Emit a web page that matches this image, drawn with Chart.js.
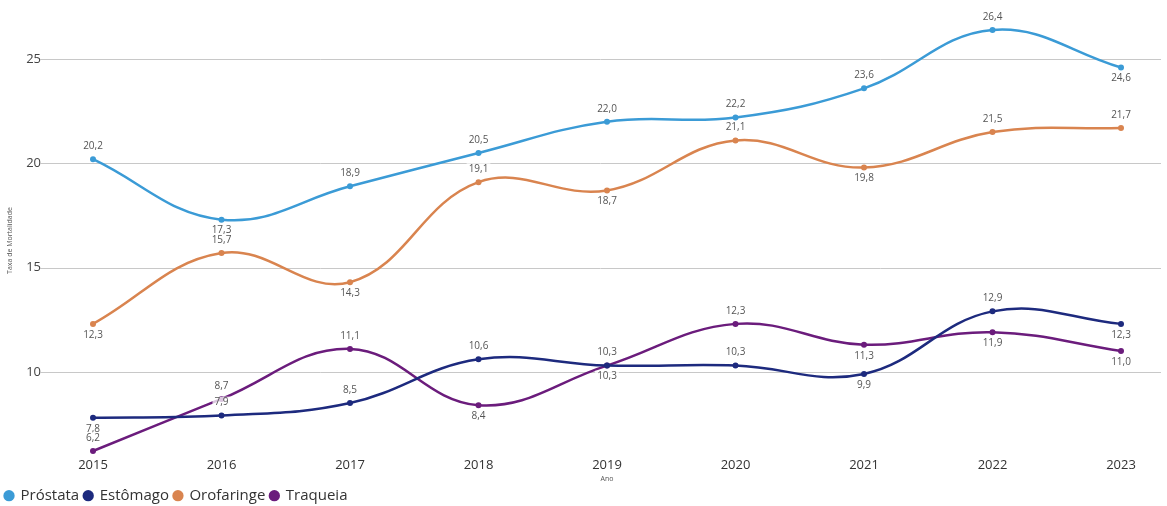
<!DOCTYPE html>
<html>
<head>
<meta charset="utf-8">
<script src="https://cdn.jsdelivr.net/npm/chart.js@4.4.1/dist/chart.umd.min.js"></script>
<style>
  html, body { margin: 0; padding: 0; background: #fff; overflow: hidden; }
  #wrap { position: relative; width: 1167px; height: 549px; margin-top: -34px; }
</style>
</head>
<body>
<div id="wrap"><canvas id="chart"></canvas></div>
<script>
const years = ["2015", "2016", "2017", "2018", "2019", "2020", "2021", "2022", "2023"];

const prostata   = [20.2, 17.3, 18.9, 20.5, 22.0, 22.2, 23.6, 26.4, 24.6];
const estomago   = [7.8, 7.9, 8.5, 10.6, 10.3, 10.3, 9.9, 12.9, 12.3];
const orofaringe = [12.3, 15.7, 14.3, 19.1, 18.7, 21.1, 19.8, 21.5, 21.7];
const traqueia   = [6.2, 8.7, 11.1, 8.4, 10.3, 12.3, 11.3, 11.9, 11.0];

// which side of the point each value label sits on (1 = above, -1 = below)
const prostataSide   = [1, -1, 1, 1, 1, 1, 1, 1, -1];
const estomagoSide   = [-1, 1, 1, 1, -1, 1, -1, 1, -1];
const orofaringeSide = [-1, 1, -1, 1, -1, 1, -1, 1, 1];
const traqueiaSide   = [1, 1, 1, -1, 1, 1, -1, -1, -1];

const COLORS = {
  prostata: "#3b9bd6",
  estomago: "#1d2a7e",
  orofaringe: "#d9844f",
  traqueia: "#6b1c7c",
};

const FONT = "'Open Sans', 'Noto Sans', sans-serif";

function line(label, data, color, side) {
  return {
    label,
    data,
    side,
    borderColor: color,
    backgroundColor: color,
    borderWidth: 2.5,
    pointRadius: 3,
    pointHoverRadius: 3,
    pointBorderWidth: 0,
    tension: 0.4,
  };
}

const gridPlugin = {
  id: "grid",
  beforeDatasetsDraw(chart) {
    const { ctx, scales } = chart;
    const y = scales.y;
    ctx.save();
    ctx.strokeStyle = "#c8c8c8";
    ctx.lineWidth = 1;
    for (const t of y.ticks) {
      const py = Math.round(y.getPixelForValue(t.value)) + 0.5;
      ctx.beginPath();
      ctx.moveTo(40, py);
      ctx.lineTo(chart.width - 6, py);
      ctx.stroke();
    }
    ctx.restore();
  },
};

const labelPlugin = {
  id: "valueLabels",
  afterDatasetsDraw(chart) {
    const { ctx } = chart;
    ctx.save();
    ctx.font = "10px " + FONT;
    ctx.textAlign = "center";
    ctx.textBaseline = "middle";
    chart.data.datasets.forEach((ds, i) => {
      const meta = chart.getDatasetMeta(i);
      meta.data.forEach((pt, j) => {
        const txt = ds.data[j].toFixed(1).replace(".", ",");
        const ly = pt.y + (ds.side[j] > 0 ? -13 : 11);
        const w = ctx.measureText(txt).width;
        ctx.fillStyle = "rgba(255,255,255,0.75)";
        ctx.fillRect(pt.x - w / 2 - 2, ly - 6, w + 4, 12);
        ctx.fillStyle = "#555";
        ctx.fillText(txt, pt.x, ly);
      });
    });
    ctx.restore();
  },
};

new Chart(document.getElementById("chart"), {
  type: "line",
  data: {
    labels: years,
    datasets: [
      line("Próstata", prostata, COLORS.prostata, prostataSide),
      line("Estômago", estomago, COLORS.estomago, estomagoSide),
      line("Orofaringe", orofaringe, COLORS.orofaringe, orofaringeSide),
      line("Traqueia", traqueia, COLORS.traqueia, traqueiaSide),
    ],
  },
  options: {
    responsive: true,
    maintainAspectRatio: false,
    animation: false,
    layout: { autoPadding: false, padding: { top: 26, right: 46, left: 0, bottom: 0 } },
    scales: {
      x: {
        offset: false,
        grid: { display: false, drawTicks: false, tickLength: 0 },
        border: { display: false },
        ticks: { color: "#333", font: { size: 13, family: FONT }, padding: 2, maxRotation: 0 },
        title: { display: true, text: "Ano", color: "#555", font: { size: 7, family: FONT }, padding: { top: 0, bottom: 0 } },
      },
      y: {
        min: 6,
        max: 26.6,
        grid: { display: false, drawTicks: false },
        border: { display: false },
        afterBuildTicks(axis) {
          axis.ticks = axis.ticks.filter((t) => t.value % 5 === 0);
        },
        afterFit(axis) {
          axis.width = 93;
        },
        ticks: { stepSize: 5, color: "#444", font: { size: 13, family: FONT }, padding: 52 },
        title: { display: true, text: "Taxa de Mortalidade", color: "#555", font: { size: 7, family: FONT }, padding: { top: 6, bottom: 0 } },
      },
    },
    plugins: {
      legend: {
        position: "bottom",
        align: "start",
        labels: {
          usePointStyle: true,
          pointStyle: "circle",
          boxWidth: 8,
          boxHeight: 8,
          padding: 5,
          color: "#333",
          font: { size: 15, family: FONT },
        },
      },
      tooltip: { enabled: false },
    },
  },
  plugins: [gridPlugin, labelPlugin],
});
</script>
</body>
</html>
